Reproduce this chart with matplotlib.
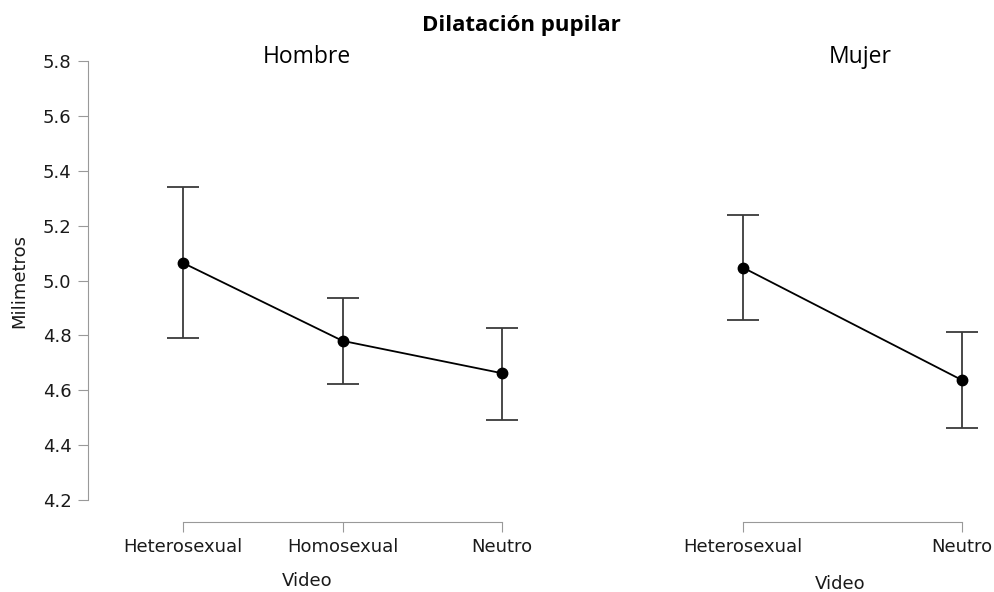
import matplotlib
matplotlib.use("Agg")
import matplotlib.pyplot as plt

# Mean pupil dilation (mm) with confidence-interval bounds, by video type
hombre_videos = ["Heterosexual", "Homosexual", "Neutro"]
hombre_mean = [5.064, 4.780, 4.662]
hombre_lower = [4.790, 4.622, 4.493]
hombre_upper = [5.340, 4.937, 4.827]

mujer_videos = ["Heterosexual", "Neutro"]
mujer_mean = [5.047, 4.637]
mujer_lower = [4.857, 4.462]
mujer_upper = [5.238, 4.812]

y_ticks = [4.2, 4.4, 4.6, 4.8, 5.0, 5.2, 5.4, 5.6, 5.8]

W, H = 995, 592
fig = plt.figure(figsize=(W / 100, H / 100), dpi=100)
fig.patch.set_facecolor("white")

spine_col = "#999999"
text_col = "#1a1a1a"
tick_fs = 13


def px_axes(x0, y0, x1, y1):
    return fig.add_axes([x0 / W, 1 - y1 / H, (x1 - x0) / W, (y1 - y0) / H])


def draw_panel(ax, cats, mean, lo, hi):
    xs = list(range(len(cats)))
    err = [[m - l for m, l in zip(mean, lo)], [h - m for m, h in zip(mean, hi)]]
    ax.errorbar(xs, mean, yerr=err, fmt="none", ecolor="#3a3a3a",
                elinewidth=1.3, capsize=11.5, capthick=1.3, zorder=2)
    ax.plot(xs, mean, color="black", lw=1.3, zorder=3)
    ax.plot(xs, mean, "o", color="black", ms=7.5, zorder=4)
    ax.set_ylim(4.2, 5.8)
    ax.set_xticks(xs)
    ax.set_xticklabels(cats)
    ax.spines["top"].set_visible(False)
    ax.spines["right"].set_visible(False)
    ax.spines["bottom"].set_position(("outward", 16))
    ax.spines["bottom"].set_bounds(xs[0], xs[-1])
    ax.spines["bottom"].set_color(spine_col)
    ax.spines["left"].set_color(spine_col)
    ax.tick_params(axis="x", length=7, color=spine_col, pad=4,
                   labelsize=tick_fs, labelcolor=text_col)
    ax.tick_params(axis="y", length=7, color=spine_col, pad=5,
                   labelsize=tick_fs, labelcolor=text_col)
    ax.set_facecolor("none")


# Left panel: Hombre
axL = px_axes(88, 61, 526, 500)
draw_panel(axL, hombre_videos, hombre_mean, hombre_lower, hombre_upper)
axL.set_xlim(-0.596, 2.15)
axL.set_yticks(y_ticks)
axL.set_yticklabels([f"{v:.1f}" for v in y_ticks])
axL.spines["left"].set_bounds(4.2, 5.8)
axL.set_ylabel("Milimetros", fontsize=13, color=text_col, labelpad=10)
axL.set_xlabel("Video", fontsize=13, color=text_col, labelpad=12)

# Right panel: Mujer
axR = px_axes(690, 61, 990, 500)
draw_panel(axR, mujer_videos, mujer_mean, mujer_lower, mujer_upper)
axR.set_xlim(-0.242, 1.128)
axR.spines["left"].set_visible(False)
axR.set_yticks([])
axR.set_xlabel("Video", fontsize=13, color=text_col, labelpad=14)

# Titles
fig.text(521 / W, 1 - 25 / H, "Dilatación pupilar", ha="center", va="center",
         fontsize=16, fontweight="bold", family="Open Sans")
fig.text(307 / W, 1 - 57 / H, "Hombre", ha="center", va="center",
         fontsize=16.5, family="Open Sans")
fig.text(860 / W, 1 - 57 / H, "Mujer", ha="center", va="center",
         fontsize=16.5, family="Open Sans")

fig.savefig("out.png", dpi=100, facecolor="white")
